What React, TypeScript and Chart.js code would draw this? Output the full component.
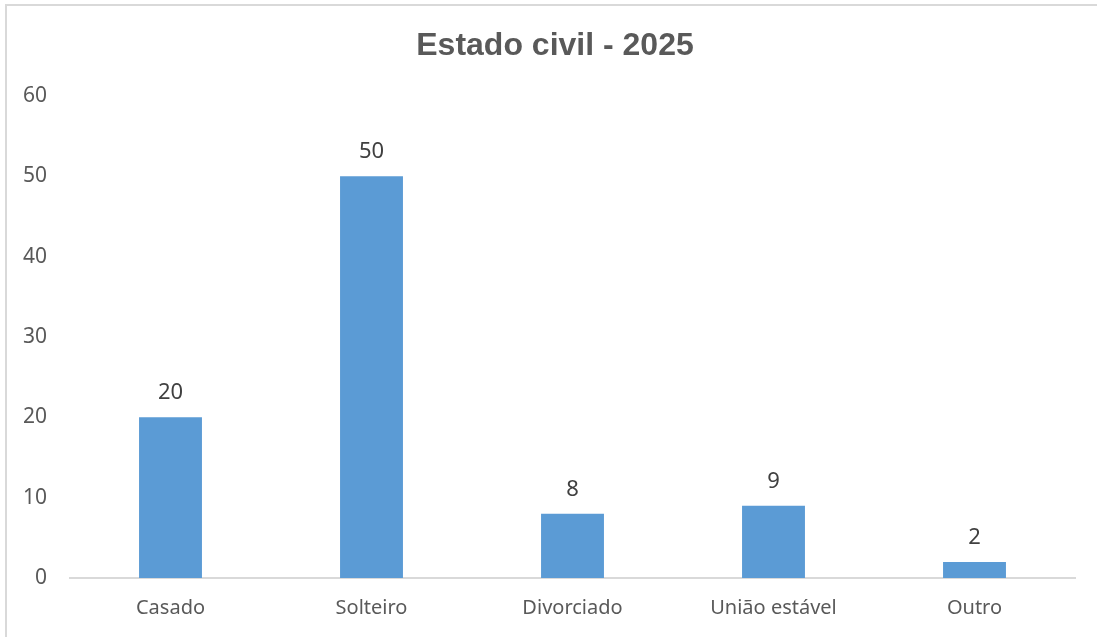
import React, { useEffect, useRef } from "react";
import { Chart, registerables } from "chart.js";

Chart.register(...registerables);

const TITLE = "Estado civil - 2025";
const categories = ["Casado", "Solteiro", "Divorciado", "União estável", "Outro"];
const values = [20, 50, 8, 9, 2];
const yMin = 0;
const yMax = 60;
const yStep = 10;

const TEXT = "#595959";
const LABEL = "#404040";
const BAR = "#5B9BD5";
const LINE = "#D9D9D9";
const FONT = "'Noto Sans', sans-serif";

const framePlugin = {
  id: "frame",
  beforeDraw(chart: any) {
    const ctx = chart.ctx;
    ctx.save();
    ctx.fillStyle = "#ffffff";
    ctx.fillRect(0, 0, chart.width, chart.height);
    ctx.fillStyle = LINE;
    ctx.fillRect(5, 4, 2, chart.height - 4);
    ctx.fillRect(5, 4, chart.width - 5, 2);
    ctx.restore();
  },
  afterDraw(chart: any) {
    const ctx = chart.ctx;
    ctx.save();
    ctx.fillStyle = TEXT;
    ctx.font = "bold 32px 'Liberation Sans', Arial, sans-serif";
    ctx.textAlign = "center";
    ctx.textBaseline = "alphabetic";
    ctx.fillText(TITLE, 555, 55);
    ctx.restore();
  },
};

const valueLabelPlugin = {
  id: "valueLabels",
  afterDatasetsDraw(chart: any) {
    const ctx = chart.ctx;
    const meta = chart.getDatasetMeta(0);
    ctx.save();
    ctx.fillStyle = LABEL;
    ctx.font = "22px " + FONT;
    ctx.textAlign = "center";
    ctx.textBaseline = "alphabetic";
    meta.data.forEach((bar: any, i: number) => {
      ctx.fillText(String(values[i]), bar.x, bar.y - 18);
    });
    ctx.restore();
  },
};

export default function App() {
  const ref = useRef<HTMLCanvasElement | null>(null);
  useEffect(() => {
    let chart: any = null;
    let cancelled = false;
    const build = () => {
      if (cancelled || !ref.current) return;
      chart = new Chart(ref.current, {
        type: "bar",
        data: {
          labels: categories,
          datasets: [
            {
              data: values,
              backgroundColor: BAR,
              borderWidth: 0,
              categoryPercentage: 1,
              barPercentage: 0.313,
            },
          ],
        },
        options: {
          responsive: false,
          animation: false,
          layout: { padding: { left: 0, right: 22, top: 96, bottom: 0 } },
          plugins: {
            legend: { display: false },
            title: { display: false },
            tooltip: { enabled: false },
          },
          scales: {
            x: {
              grid: { display: false, drawTicks: false },
              border: { display: true, color: LINE, width: 2 },
              ticks: {
                color: TEXT,
                font: { family: FONT, size: 20 },
                padding: 18,
                maxRotation: 0,
              },
              afterFit: (s: any) => {
                s.height = 59;
              },
            },
            y: {
              min: yMin,
              max: yMax,
              grid: { display: false, drawTicks: false },
              border: { display: false },
              ticks: {
                stepSize: yStep,
                color: TEXT,
                font: { family: FONT, size: 21 },
                padding: 23,
              },
              afterFit: (s: any) => {
                s.width = 70;
              },
            },
          },
        },
        plugins: [framePlugin, valueLabelPlugin],
      });
    };
    const fonts: any = (document as any).fonts;
    if (fonts && fonts.load) {
      Promise.all([
        fonts.load("20px 'Noto Sans'"),
        fonts.load("22px 'Noto Sans'"),
        fonts.load("bold 32px 'Liberation Sans'"),
      ])
        .catch(() => null)
        .then(build);
    } else {
      build();
    }
    return () => {
      cancelled = true;
      if (chart) chart.destroy();
    };
  }, []);
  return (
    <div style={{ position: "absolute", left: 0, top: 0, width: 1097, height: 637 }}>
      <canvas ref={ref} width={1097} height={637} style={{ display: "block" }} />
    </div>
  );
}
